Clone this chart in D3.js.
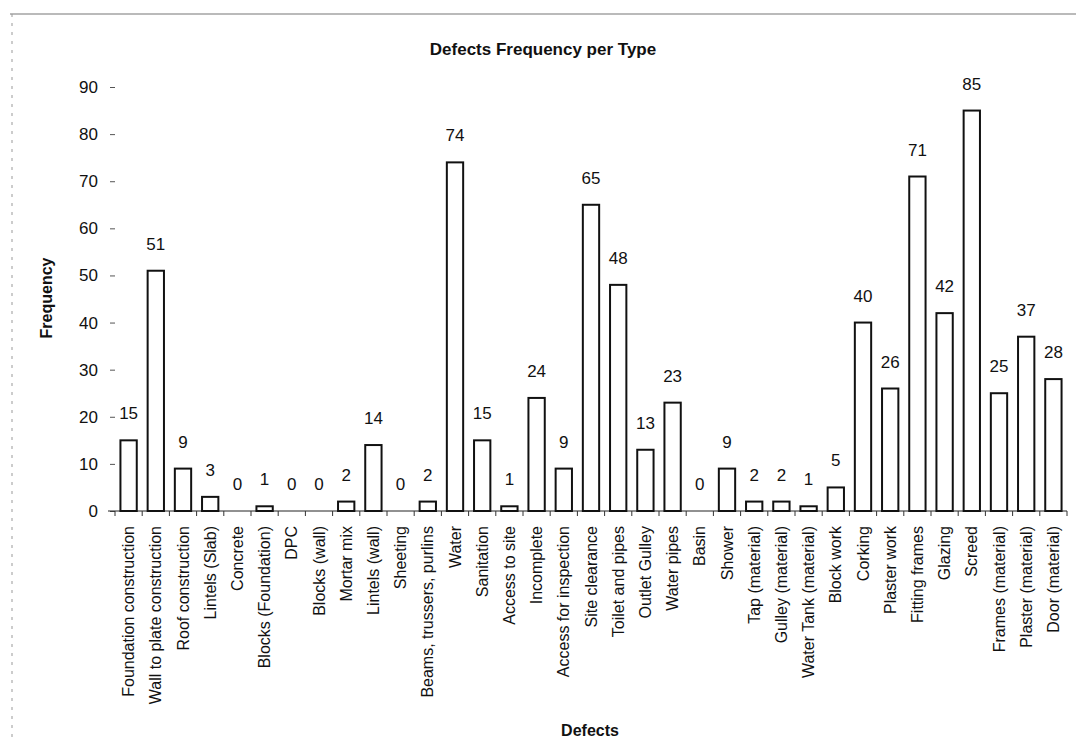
<!DOCTYPE html>
<html>
<head>
<meta charset="utf-8">
<script src="https://cdn.jsdelivr.net/npm/d3@7"></script>
<style>
  body { margin: 0; background: #fff; }
  text { font-family: "Liberation Sans Narrow", "Arial Narrow", "Liberation Sans", Arial, sans-serif; fill: #111; }
</style>
</head>
<body>
<div id="chart-area"></div>
<script>
// defect categories and how often each was found
var categories = [
	"Foundation construction", "Wall to plate construction", "Roof construction",
	"Lintels (Slab)", "Concrete", "Blocks (Foundation)", "DPC", "Blocks (wall)",
	"Mortar mix", "Lintels (wall)", "Sheeting", "Beams, trussers, purlins",
	"Water", "Sanitation", "Access to site", "Incomplete", "Access for inspection",
	"Site clearance", "Toilet and pipes", "Outlet Gulley", "Water pipes", "Basin",
	"Shower", "Tap (material)", "Gulley (material)", "Water Tank (material)",
	"Block work", "Corking", "Plaster work", "Fitting frames", "Glazing", "Screed",
	"Frames (material)", "Plaster (material)", "Door (material)"
]
var frequency = [15, 51, 9, 3, 0, 1, 0, 0, 2, 14, 0, 2, 74, 15, 1, 24, 9,
	65, 48, 13, 23, 0, 9, 2, 2, 1, 5, 40, 26, 71, 42, 85, 25, 37, 28]
var yTicks = [0, 10, 20, 30, 40, 50, 60, 70, 80, 90]

var data = categories.map(function (c, i) {
	return { name: c, value: frequency[i] }
})

var W = 1079, H = 748
var margin = { left: 115, right: 12, top: 87, bottom: 237 }
var width = W - margin.left - margin.right
var height = H - margin.top - margin.bottom

var svg = d3.select("#chart-area")
	.append("svg")
	.attr("width", W)
	.attr("height", H)

// scan frame
svg.append("line")
	.attr("x1", 10).attr("x2", 1076).attr("y1", 14).attr("y2", 14)
	.attr("stroke", "#777").attr("stroke-width", 1.2)
svg.append("line")
	.attr("x1", 12).attr("x2", 12).attr("y1", 14).attr("y2", 740)
	.attr("stroke", "#999").attr("stroke-dasharray", "3,6")

var g = svg.append("g")
	.attr("transform", "translate(" + margin.left + "," + margin.top + ")")

var x = d3.scaleBand()
	.domain(categories)
	.range([0, width])
	.paddingInner(0.4)
	.paddingOuter(0.2)

var y = d3.scaleLinear()
	.domain([0, 90])
	.range([height, 0])

// y axis: ticks only, no visible line
var leftAxis = d3.axisLeft(y).tickValues(yTicks).tickSize(5).tickPadding(12)
var ya = g.append("g").attr("class", "y-axis").call(leftAxis)
ya.select(".domain").remove()
ya.selectAll("line").attr("stroke", "#555")
ya.selectAll("text").style("font-size", "17px")

// x axis with ticks between bands
var bottomAxis = d3.axisBottom(x).tickSize(0).tickPadding(0)
var xa = g.append("g")
	.attr("class", "x axis")
	.attr("transform", "translate(0," + height + ")")
	.call(bottomAxis)
xa.select(".domain").attr("d", "M-7,0H" + width).attr("stroke", "#222")
xa.selectAll("text")
	.style("font-size", "16px")
	.attr("text-anchor", "end")
	.attr("dy", "0.35em")
	.attr("transform", "translate(0,15) rotate(-90)")
	.attr("x", 0).attr("y", 0)

var step = x.step()
g.append("g").selectAll("line.sep")
	.data(d3.range(categories.length + 1))
	.enter()
	.append("line")
	.attr("x1", function (i) { return x(categories[0]) - x.paddingInner() * step / 2 + i * step })
	.attr("x2", function (i) { return x(categories[0]) - x.paddingInner() * step / 2 + i * step })
	.attr("y1", height)
	.attr("y2", height + 5)
	.attr("stroke", "#333")

g.selectAll("rect.bar")
	.data(data)
	.enter()
	.append("rect")
	.attr("class", "bar")
	.attr("x", function (d) { return x(d.name) })
	.attr("y", function (d) { return y(d.value) })
	.attr("width", x.bandwidth())
	.attr("height", function (d) { return height - y(d.value) })
	.attr("fill", "#fff")
	.attr("stroke", "#111")
	.attr("stroke-width", 2)

g.selectAll("text.val")
	.data(data)
	.enter()
	.append("text")
	.attr("class", "val")
	.attr("x", function (d) { return x(d.name) + x.bandwidth() / 2 })
	.attr("y", function (d) { return y(d.value) - 21 })
	.attr("text-anchor", "middle")
	.style("font-size", "17px")
	.text(function (d) { return d.value })

// titles
svg.append("text")
	.attr("x", 543).attr("y", 55)
	.attr("text-anchor", "middle")
	.style("font-size", "17px").style("font-weight", "bold")
	.text("Defects Frequency per Type")

svg.append("text")
	.attr("transform", "translate(52,298) rotate(-90)")
	.attr("text-anchor", "middle")
	.style("font-size", "16px").style("font-weight", "bold")
	.text("Frequency")

svg.append("text")
	.attr("x", 590).attr("y", 736)
	.attr("text-anchor", "middle")
	.style("font-size", "16px").style("font-weight", "bold")
	.text("Defects")
</script>
</body>
</html>
